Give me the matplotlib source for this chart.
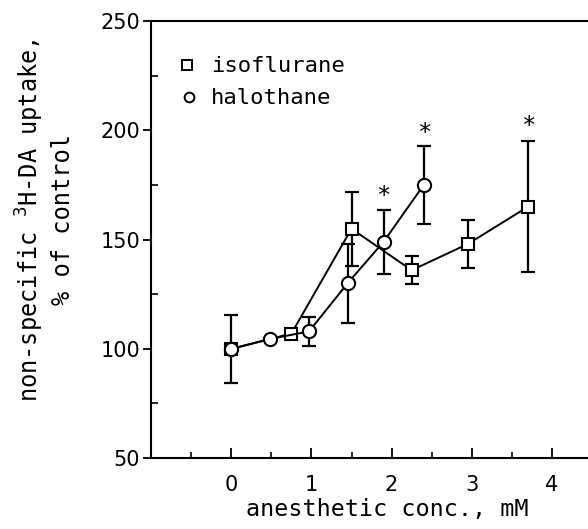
import matplotlib
matplotlib.use('Agg')
import matplotlib.pyplot as plt
from matplotlib.ticker import MultipleLocator

# isoflurane (squares)
iso_x = [0.0, 0.75, 1.5, 2.25, 2.95, 3.7]
iso_y = [100, 107, 155, 136, 148, 165]
iso_err = [0, 0, 17, 6.5, 11, 30]

# halothane (circles)
hal_x = [0.0, 0.48, 0.97, 1.45, 1.9, 2.4]
hal_y = [100, 104.5, 108, 130, 149, 175]
hal_err = [15.5, 0, 6.5, 18, 14.5, 18]

# significance marks
star_x = [1.9, 2.4, 3.7]
star_y = [170, 199, 202]

mono = 'DejaVu Sans Mono'

fig = plt.figure(figsize=(5.88, 5.29), dpi=100)
ax = fig.add_axes([0.257, 0.134, 0.743, 0.826])

ax.errorbar(iso_x, iso_y, yerr=iso_err, fmt='none', ecolor='black',
            elinewidth=1.6, capsize=5, capthick=1.6)
ax.errorbar(hal_x, hal_y, yerr=hal_err, fmt='none', ecolor='black',
            elinewidth=1.6, capsize=5, capthick=1.6)
ax.plot(iso_x, iso_y, '-', color='black', lw=1.4, marker='s', ms=8.5,
        mfc='white', mec='black', mew=1.5, zorder=3)
ax.plot(hal_x, hal_y, '-', color='black', lw=1.4, marker='o', ms=9.5,
        mfc='white', mec='black', mew=1.5, zorder=3)

for sx, sy in zip(star_x, star_y):
    ax.text(sx, sy, '*', ha='center', va='center', fontsize=17,
            family=mono)

# legend drawn by hand
ax.plot([-0.55], [230], 's', ms=7, mfc='white', mec='black', mew=1.4)
ax.plot([-0.53], [215.5], 'o', ms=7, mfc='white', mec='black', mew=1.4)
ax.text(-0.25, 229.5, 'isoflurane', va='center', fontsize=16, family=mono)
ax.text(-0.25, 215, 'halothane', va='center', fontsize=16, family=mono)

ax.set_xlim(-1.0, 4.45)
ax.set_ylim(50, 250)
ax.set_xticks([0, 1, 2, 3, 4])
ax.set_yticks([50, 100, 150, 200, 250])
ax.xaxis.set_minor_locator(MultipleLocator(0.5))
ax.yaxis.set_minor_locator(MultipleLocator(25))

ax.spines['right'].set_visible(False)
for s in ['left', 'bottom', 'top']:
    ax.spines[s].set_linewidth(1.5)

ax.tick_params(axis='x', which='major', direction='in', length=7, width=1.3,
               labelsize=15, pad=12, top=False)
ax.tick_params(axis='x', which='minor', direction='in', length=4, width=1.2,
               top=False)
ax.tick_params(axis='y', which='major', direction='out', length=6, width=1.3,
               labelsize=15, pad=2)
ax.tick_params(axis='y', which='minor', direction='in', length=5, width=1.2)

ax.set_xlabel('anesthetic conc., mM', fontsize=16.8, family=mono)
ax.set_ylabel('non-specific $^3$H-DA uptake,\n% of control', fontsize=17,
              family=mono, linespacing=1.25)
ax.xaxis.set_label_coords(0.54, -0.092)
ax.yaxis.set_label_coords(-0.174, 0.545)

fig.savefig('out.png', dpi=100)
